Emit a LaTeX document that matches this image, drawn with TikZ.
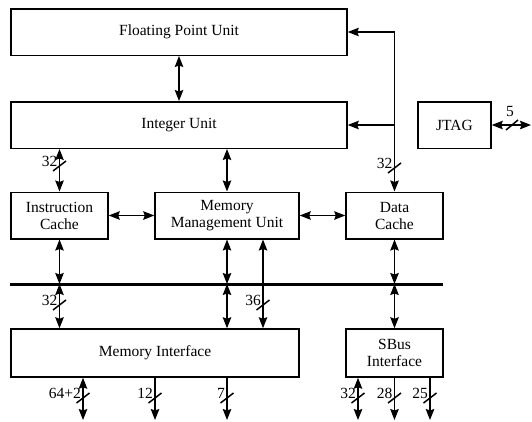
\documentclass[tikz,border=0pt]{standalone}
\usepackage{fontspec}
\setmainfont{Liberation Serif}
\usetikzlibrary{arrows.meta,calc}
\newcommand{\wslash}[4]{%
  \draw[conn] (#1-6.5,#2+5) -- (#1+6.5,#2-5);
  \node[lbl, anchor=south east] (#4) at (#1-2,#2+1) {#3};}
\begin{document}
\begin{tikzpicture}[x=1pt,y=-1pt,
  box/.style={draw, line width=1.5pt, inner sep=0pt, minimum height=46.5pt, align=center, font=\fontsize{15.5}{17}\selectfont},
  conn/.style={line width=1.5pt},
  tip/.style={-{Stealth[length=11pt,width=8.5pt,inset=1.5pt]}},
  tips/.style={{Stealth[length=11pt,width=8.5pt,inset=1.5pt]}-{Stealth[length=11pt,width=8.5pt,inset=1.5pt]}},
  lbl/.style={inner sep=0pt, font=\fontsize{15.5}{17}\selectfont}]
\useasboundingbox (0,0) rectangle (532,421);
% boxes
\node[box, minimum width=336pt] (fpu) at (179,32) {Floating Point Unit};
\node[box, minimum width=336pt] (iu) at (179,125) {Integer Unit};
\node[box, minimum width=73pt] (jtag) at (454.5,125) {JTAG};
\node[box, minimum width=97pt] (ic) at (59.5,215.5) {Instruction\\Cache};
\node[box, minimum width=144pt] (mmu) at (227,215.5) {Memory\\Management Unit};
\node[box, minimum width=97pt] (dc) at (394.5,215.5) {Data\\Cache};
\node[box, minimum width=288pt, minimum height=48pt] (mi) at (155,353) {Memory Interface};
\node[box, minimum width=97pt, minimum height=48pt] (sbus) at (394.5,353) {SBus\\Interface};
% bus
\coordinate (busL) at (10,284);
\coordinate (busR) at (443,284);
\draw[line width=3pt] (busL) -- (busR);
% connectors
\draw[conn,tips] (fpu.south) -- (iu.north);
\draw[conn,tips] (fpu.east) -- (fpu.east -| dc.north) -- (dc.north);
\draw[conn,tip] (iu.east -| dc.north) -- (iu.east);
\draw[conn,tips] (iu.south -| ic.north) -- (ic.north);
\draw[conn,tips] (iu.south -| mmu.north) -- (mmu.north);
\draw[conn,tips] (ic.east) -- (mmu.west);
\draw[conn,tips] (mmu.east) -- (dc.west);
\draw[conn,tips] (ic.south) -- (ic.south |- busL);
\draw[conn,tips] (mmu.south) -- (mmu.south |- busL);
\draw[conn,tips] (dc.south) -- (dc.south |- busL);
\draw[conn,tips] (ic.south |- busL) -- (ic.south |- mi.north);
\draw[conn,tips] (mmu.south |- busL) -- (mmu.south |- mi.north);
\coordinate (a36) at ([xshift=36pt]mmu.south);
\draw[conn,tips] (a36) -- (a36 |- mi.north);
\draw[conn,tips] (dc.south |- busL) -- (sbus.north);
\coordinate (jend) at (531,125);
\draw[conn,tips] (jtag.east) -- (jend);
% bottom connectors
\coordinate (b1) at (83,420);
\coordinate (b2) at (155,420);
\coordinate (b3) at (227,420);
\coordinate (b4) at (358,420);
\coordinate (b5) at (394.5,420);
\coordinate (b6) at (430,420);
\draw[conn,tips] (mi.south -| b1) -- (b1);
\draw[conn,tip] (mi.south -| b2) -- (b2);
\draw[conn,tip] (mi.south -| b3) -- (b3);
\draw[conn,tips] (sbus.south -| b4) -- (b4);
\draw[conn,tip] (sbus.south -| b5) -- (b5);
\draw[conn,tip] (sbus.south -| b6) -- (b6);
% width marks
\wslash{59.5}{166}{32}{w1}
\wslash{394.5}{168}{32}{w2}
\wslash{59.5}{305}{32}{w3}
\wslash{263}{305}{36}{w4}
\wslash{83}{398}{64+2}{w5}
\wslash{155}{398}{12}{w6}
\wslash{227}{398}{7}{w7}
\wslash{358}{398}{32}{w8}
\wslash{394.5}{398}{28}{w9}
\wslash{430}{398}{25}{w10}
\draw[conn] (506,130) -- (518,120);
\node[lbl, anchor=south] (w11) at (510,117) {5};
\end{tikzpicture}
\end{document}
